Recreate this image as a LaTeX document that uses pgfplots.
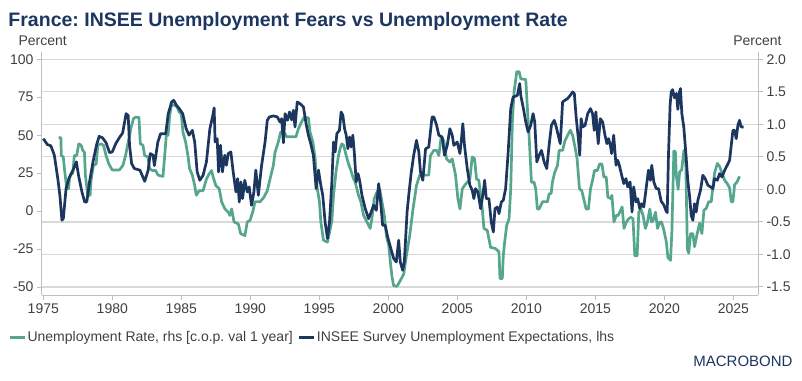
\documentclass[border=0pt]{standalone}
\usepackage{fontspec}
\setmainfont{Liberation Sans}
\usepackage{pgfplots}
\pgfplotsset{compat=1.18}
\frenchspacing
\definecolor{navy}{HTML}{1C3660}
\definecolor{tealc}{HTML}{55A68D}
\definecolor{gridc}{HTML}{D9D9D9}
\definecolor{axc}{HTML}{BFBFBF}
\definecolor{txt}{HTML}{404040}
\pgfplotsset{base/.style={
  at={(41.7pt,85pt)}, anchor=south west,
  width=716.6pt, height=243.3pt, scale only axis,
  xmin=1974.884, xmax=2026.81,
  axis line style={axc, line width=1pt},
  tick style={axc, line width=1pt},
  major tick length=4.7pt,
  tick align=outside,
  ticklabel style={font=\fontsize{14}{16}\selectfont, text=txt},
}}
\begin{document}
\frenchspacing
\begin{tikzpicture}
\path[use as bounding box] (0pt,0pt) rectangle (802pt,380pt);
% right axis (teal) with grid
\begin{axis}[base,
  axis x line=none, axis y line*=right,
  ymin=-1.623, ymax=2.117,
  ytick={-1.5,-1,-0.5,0,0.5,1,1.5,2},
  yticklabels={-1.5,-1.0,-0.5,0.0,0.5,1.0,1.5,2.0},
  ymajorgrids, grid style={gridc, line width=1.2pt},
]
\addplot[tealc, line width=2.7pt, line join=round] coordinates {
(1976.11,0.80)(1976.28,0.79)(1976.3,0.52)(1976.45,0.50)(1976.53,0.32)(1976.7,0.01)(1976.84,0.01)(1976.89,0.16)(1977.0,0.24)(1977.13,0.24)(1977.25,0.52)(1977.42,0.52)(1977.57,0.70)(1977.74,0.68)(1977.86,0.60)(1977.98,0.57)(1978.05,0.22)(1978.22,-0.09)(1978.39,-0.09)(1978.46,0.14)(1978.63,0.37)(1978.83,0.39)(1978.95,0.68)(1979.19,0.70)(1979.36,0.68)(1979.55,0.52)(1979.75,0.39)(1979.99,0.30)(1980.52,0.30)(1980.77,0.37)(1980.96,0.52)(1981.13,0.70)(1981.37,0.96)(1981.54,1.09)(1981.69,1.11)(1981.93,1.11)(1982.03,0.70)(1982.22,0.68)(1982.34,0.52)(1982.58,0.50)(1982.7,0.32)(1982.9,0.29)(1983.14,0.29)(1983.31,0.22)(1983.67,0.20)(1983.79,0.50)(1983.91,0.83)(1984.04,0.83)(1984.16,1.14)(1984.28,1.29)(1984.45,1.30)(1984.69,1.27)(1984.84,1.19)(1985.0,1.16)(1985.12,0.88)(1985.31,0.73)(1985.48,0.52)(1985.6,0.32)(1985.8,0.22)(1985.97,0.06)(1986.09,-0.09)(1986.29,-0.02)(1986.58,-0.02)(1986.82,0.16)(1987.02,0.24)(1987.19,0.29)(1987.31,0.19)(1987.5,0.06)(1987.75,0.01)(1987.92,-0.19)(1988.16,-0.30)(1988.4,-0.35)(1988.52,-0.40)(1988.65,-0.30)(1988.82,-0.50)(1989.13,-0.53)(1989.3,-0.68)(1989.61,-0.71)(1989.78,-0.50)(1989.97,-0.48)(1990.17,-0.35)(1990.34,-0.19)(1990.7,-0.19)(1990.99,-0.12)(1991.23,-0.02)(1991.43,0.16)(1991.67,0.37)(1991.79,0.57)(1992.03,0.73)(1992.2,0.88)(1992.4,0.89)(1992.64,0.81)(1993.0,0.81)(1993.31,0.81)(1993.48,0.93)(1993.72,1.04)(1993.9,1.11)(1994.21,1.10)(1994.33,0.88)(1994.53,0.73)(1994.7,0.47)(1994.82,0.06)(1995.01,-0.19)(1995.11,-0.50)(1995.3,-0.78)(1995.59,-0.81)(1995.74,-0.66)(1995.91,-0.48)(1996.03,-0.09)(1996.22,0.29)(1996.39,0.52)(1996.51,0.63)(1996.63,0.70)(1996.76,0.68)(1996.95,0.52)(1997.12,0.39)(1997.29,0.29)(1997.43,0.19)(1997.6,0.11)(1997.84,-0.09)(1998.01,-0.19)(1998.21,-0.40)(1998.4,-0.48)(1998.57,-0.55)(1998.69,-0.60)(1998.81,-0.45)(1998.98,-0.14)(1999.18,-0.04)(1999.37,0.01)(1999.54,-0.19)(1999.71,-0.40)(1999.86,-0.71)(2000.03,-0.86)(2000.15,-1.12)(2000.27,-1.35)(2000.39,-1.48)(2000.63,-1.49)(2000.87,-1.40)(2001.12,-1.30)(2001.31,-1.02)(2001.55,-0.71)(2001.79,-0.30)(2002.04,0.06)(2002.28,0.22)(2002.93,0.22)(2003.05,0.52)(2003.3,0.60)(2003.5,0.60)(2003.66,0.52)(2003.83,0.81)(2004.02,0.75)(2004.22,0.47)(2004.46,0.42)(2004.63,0.47)(2004.87,0.22)(2005.04,-0.14)(2005.19,-0.30)(2005.36,0.01)(2005.52,0.06)(2005.72,0.11)(2005.91,0.16)(2006.08,0.50)(2006.25,0.47)(2006.39,0.16)(2006.56,0.14)(2006.69,-0.09)(2006.81,-0.30)(2006.93,-0.60)(2007.17,-0.63)(2007.41,-0.89)(2007.78,-0.91)(2008.02,-0.96)(2008.09,-1.37)(2008.26,-1.37)(2008.33,-1.02)(2008.43,-0.81)(2008.58,-0.55)(2008.75,-0.45)(2008.87,0.01)(2008.99,1.04)(2009.11,1.50)(2009.31,1.81)(2009.48,1.81)(2009.6,1.70)(2009.96,1.69)(2010.08,1.24)(2010.2,0.83)(2010.37,0.11)(2010.56,0.11)(2010.68,0.01)(2010.8,-0.30)(2010.93,-0.30)(2011.17,-0.19)(2011.53,-0.19)(2011.65,-0.07)(2011.8,-0.06)(2011.89,0.11)(2012.04,0.25)(2012.26,0.37)(2012.38,0.60)(2012.63,0.60)(2012.8,0.75)(2012.99,0.83)(2013.19,0.91)(2013.36,0.83)(2013.53,0.65)(2013.68,0.47)(2013.85,0.01)(2014.02,-0.02)(2014.21,-0.19)(2014.33,-0.30)(2014.5,-0.30)(2014.65,0.01)(2014.82,0.16)(2014.94,0.29)(2015.14,0.29)(2015.31,0.39)(2015.48,0.39)(2015.62,0.19)(2015.79,0.19)(2015.91,-0.12)(2016.11,-0.14)(2016.2,-0.09)(2016.35,-0.50)(2016.52,-0.40)(2016.65,-0.40)(2016.77,-0.35)(2016.94,-0.27)(2017.08,-0.60)(2017.25,-0.50)(2017.42,-0.45)(2017.57,-0.43)(2017.73,-0.45)(2017.86,-1.02)(2018.03,-1.02)(2018.15,-0.35)(2018.3,-0.30)(2018.46,-0.40)(2018.63,-0.60)(2018.78,-0.50)(2018.95,-0.30)(2019.07,-0.50)(2019.19,-0.48)(2019.36,-0.35)(2019.51,-0.60)(2019.68,-0.50)(2019.8,-0.50)(2019.97,-0.63)(2020.14,-0.80)(2020.26,-1.05)(2020.45,-1.09)(2020.55,-0.63)(2020.69,0.59)(2020.8,0.58)(2020.87,0.21)(2021.0,0.0)(2021.11,0.27)(2021.26,0.30)(2021.42,0.60)(2021.54,0.57)(2021.6,-0.11)(2021.67,-0.92)(2021.77,-0.98)(2021.9,-0.68)(2022.07,-0.68)(2022.19,-0.88)(2022.38,-0.68)(2022.55,-0.52)(2022.72,-0.68)(2022.87,-0.32)(2023.04,-0.29)(2023.21,-0.19)(2023.4,-0.19)(2023.52,0.04)(2023.64,0.25)(2023.84,0.40)(2024.01,0.35)(2024.18,0.25)(2024.37,0.14)(2024.56,0.09)(2024.73,0.02)(2024.85,-0.19)(2024.97,-0.19)(2025.09,0.07)(2025.28,0.12)(2025.45,0.20)
};
\end{axis}
% left axis (navy)
\begin{axis}[base,
  axis x line*=bottom, axis y line*=left,
  ymin=-55.27, ymax=105,
  ytick={-50,-25,0,25,50,75,100},
  yticklabels={-50,-25,0,25,50,75,100},
  xtick={1975,1980,1985,1990,1995,2000,2005,2010,2015,2020,2025},
  xticklabels={1975,1980,1985,1990,1995,2000,2005,2010,2015,2020,2025},
  legend style={at={(rel axis cs:-0.047,-0.1739)}, anchor=west, draw=none, fill=none,
    inner sep=0pt, font=\fontsize{14}{16}\selectfont, text=txt,
    nodes={inner xsep=1.3pt, inner ysep=0pt},
    /tikz/every odd column/.append style={column sep=0pt},
    /tikz/every even column/.append style={column sep=3.5pt}},
  legend columns=-1,
  legend image code/.code={\draw[#1, line width=3pt] (0pt,0pt) -- (15pt,0pt);},
]
\addlegendimage{tealc, line width=3pt}
\addlegendentry{Unemployment Rate, rhs [c.o.p. val 1 year]}
\addplot[navy, line width=2.7pt, line join=round] coordinates {
(1975.0,47.7)(1975.3,43.8)(1975.55,43)(1975.8,36.8)(1976.05,21.4)(1976.2,10.4)(1976.35,-6)(1976.45,-5)(1976.65,14.8)(1976.85,21.4)(1977.15,27)(1977.4,32.4)(1977.55,23.6)(1977.8,12.6)(1978.0,6)(1978.15,6)(1978.35,19.2)(1978.6,32.4)(1978.85,43.3)(1979.05,49.3)(1979.3,48.2)(1979.55,45)(1979.8,38.5)(1980.0,39)(1980.25,44.4)(1980.5,48.2)(1980.75,51.5)(1981.0,64.2)(1981.15,63)(1981.25,43.3)(1981.4,31.3)(1981.6,28)(1982.0,27)(1982.35,19.6)(1982.6,27)(1982.75,37.9)(1982.95,36.8)(1983.05,30)(1983.3,45.5)(1983.5,51)(1983.87,51)(1984.05,64)(1984.3,71.9)(1984.45,73)(1984.65,69.7)(1984.85,67.5)(1985.1,64.2)(1985.35,54.3)(1985.56,50)(1985.8,53.2)(1985.97,45.5)(1986.15,25.8)(1986.34,20.3)(1986.58,23.6)(1986.82,32.4)(1987.07,54.3)(1987.26,62)(1987.38,68)(1987.45,45.5)(1987.6,47.7)(1987.7,25.8)(1987.84,43.3)(1987.98,25.8)(1988.15,36.8)(1988.27,30.2)(1988.4,37.9)(1988.59,39)(1988.76,25.8)(1988.96,12.6)(1989.08,21.4)(1989.2,6)(1989.32,19.2)(1989.44,8.2)(1989.6,20.3)(1989.78,12.6)(1989.92,15.9)(1990.09,3.8)(1990.26,12.6)(1990.4,27)(1990.58,10.4)(1990.82,30.2)(1991.07,45.5)(1991.23,59.8)(1991.38,62)(1991.67,62.7)(1991.96,62)(1992.15,58.7)(1992.27,60.9)(1992.4,45)(1992.52,64.2)(1992.69,59.8)(1992.84,65.3)(1993.0,60)(1993.12,66.4)(1993.24,55.4)(1993.4,71.9)(1993.6,70.8)(1993.85,68.6)(1994.04,57.6)(1994.21,50)(1994.38,44.4)(1994.57,36.8)(1994.77,14.8)(1994.94,27)(1995.11,17)(1995.25,10.4)(1995.42,-7.2)(1995.59,-18.1)(1995.74,-7.2)(1995.91,19.2)(1996.03,45.5)(1996.15,39)(1996.27,51)(1996.46,53.2)(1996.58,65.3)(1996.71,63)(1996.83,54.3)(1996.95,50)(1997.07,41.1)(1997.19,48.8)(1997.31,42.2)(1997.43,50)(1997.55,36.8)(1997.67,19.2)(1997.8,24.7)(1997.92,20.3)(1998.09,10.4)(1998.33,1.6)(1998.57,-5)(1998.76,-0.6)(1998.93,3.8)(1999.13,0.5)(1999.3,18.1)(1999.42,8.2)(1999.59,-9.4)(1999.78,-9.4)(1999.95,-17)(2000.15,-23.6)(2000.39,-31.3)(2000.58,-33.5)(2000.75,-19.2)(2000.87,-33.5)(2001.04,-39)(2001.16,-33.5)(2001.36,-0.6)(2001.48,10.4)(2001.65,24.7)(2001.84,36.8)(2002.04,46.6)(2002.21,39)(2002.33,25.8)(2002.5,20.3)(2002.7,41)(2002.93,42.2)(2003.17,62)(2003.3,62)(2003.5,56.5)(2003.66,50)(2003.9,48.8)(2004.07,36.8)(2004.27,43.3)(2004.46,54.3)(2004.63,50)(2004.75,43.3)(2004.99,45.5)(2005.19,37.9)(2005.28,45.5)(2005.4,57.6)(2005.52,43.3)(2005.72,28)(2005.91,17)(2006.08,13.7)(2006.2,8.2)(2006.32,14.8)(2006.49,12.6)(2006.69,1.6)(2006.88,12.6)(2006.98,20.3)(2007.1,8.2)(2007.29,8.2)(2007.46,-7.2)(2007.61,-13.8)(2007.73,1.6)(2007.9,2.7)(2008.02,-1.7)(2008.19,6)(2008.33,7.1)(2008.5,14.8)(2008.67,36.8)(2008.87,67.5)(2009.04,75.1)(2009.35,76.2)(2009.52,84)(2009.6,76.2)(2009.79,67.5)(2009.96,58.7)(2010.13,52.1)(2010.32,56.5)(2010.49,64.2)(2010.61,58.7)(2010.76,32.4)(2010.93,36.8)(2011.1,40)(2011.29,32.4)(2011.48,28)(2011.65,43.3)(2011.82,56.5)(2012.02,59.8)(2012.14,56.5)(2012.31,50)(2012.46,44.4)(2012.63,71.9)(2012.8,73)(2012.99,74.1)(2013.19,76.3)(2013.36,78.5)(2013.48,77.4)(2013.6,63)(2013.77,47.7)(2013.87,36.8)(2013.97,60.9)(2014.09,55.4)(2014.26,56.5)(2014.45,64.2)(2014.65,67.5)(2014.8,64.2)(2014.92,53.2)(2015.04,65.3)(2015.21,44.4)(2015.36,60.9)(2015.53,58.7)(2015.7,50)(2015.84,44.4)(2015.96,47.7)(2016.09,43.3)(2016.18,37.9)(2016.33,50)(2016.5,30.2)(2016.62,33.5)(2016.74,30.2)(2016.91,23.6)(2017.06,18.1)(2017.22,21.4)(2017.35,15.9)(2017.52,19.2)(2017.66,-0.6)(2017.78,15.9)(2017.95,6)(2018.07,8.2)(2018.22,1.6)(2018.36,4.9)(2018.51,2.7)(2018.68,14.8)(2018.85,27)(2018.99,20.3)(2019.09,30.2)(2019.24,19.2)(2019.41,14.8)(2019.58,14.8)(2019.77,6.5)(2019.97,4)(2020.13,0)(2020.21,-1)(2020.3,36.8)(2020.42,70)(2020.5,78.5)(2020.6,80)(2020.74,74.6)(2020.88,77.5)(2020.98,67)(2021.1,78.5)(2021.17,80.7)(2021.27,64.2)(2021.41,55.4)(2021.58,35.7)(2021.7,20.3)(2021.83,9.8)(2021.95,-3)(2022.07,-6.1)(2022.19,4.9)(2022.31,-0.6)(2022.43,7.1)(2022.62,13.7)(2022.79,23.6)(2022.96,21.4)(2023.16,17)(2023.35,15.9)(2023.52,14.8)(2023.64,21.4)(2023.84,20.3)(2024.01,24.7)(2024.18,22.5)(2024.37,26.9)(2024.56,30.2)(2024.73,33.5)(2024.85,43.3)(2024.97,53.2)(2025.09,53.2)(2025.21,47.7)(2025.33,56.5)(2025.45,59.8)(2025.57,55.4)(2025.74,55.4)
};
\addlegendentry{INSEE Survey Unemployment Expectations, lhs}
\end{axis}
\node[anchor=base west, inner sep=0pt, text=navy, font=\fontsize{19.5}{22}\selectfont\bfseries] at (8.3pt,353.3pt) {France: INSEE Unemployment Fears vs Unemployment Rate};
\node[anchor=base west, inner sep=0pt, text=txt, font=\fontsize{14}{16}\selectfont] at (18.3pt,334.3pt) {Percent};
\node[anchor=base east, inner sep=0pt, text=txt, font=\fontsize{14}{16}\selectfont] at (781.7pt,334.3pt) {Percent};
\node[anchor=base east, inner sep=0pt, text=navy, font=\fontsize{15}{18}\selectfont] at (792.7pt,14pt) {MACROBOND};
\end{tikzpicture}
\end{document}
